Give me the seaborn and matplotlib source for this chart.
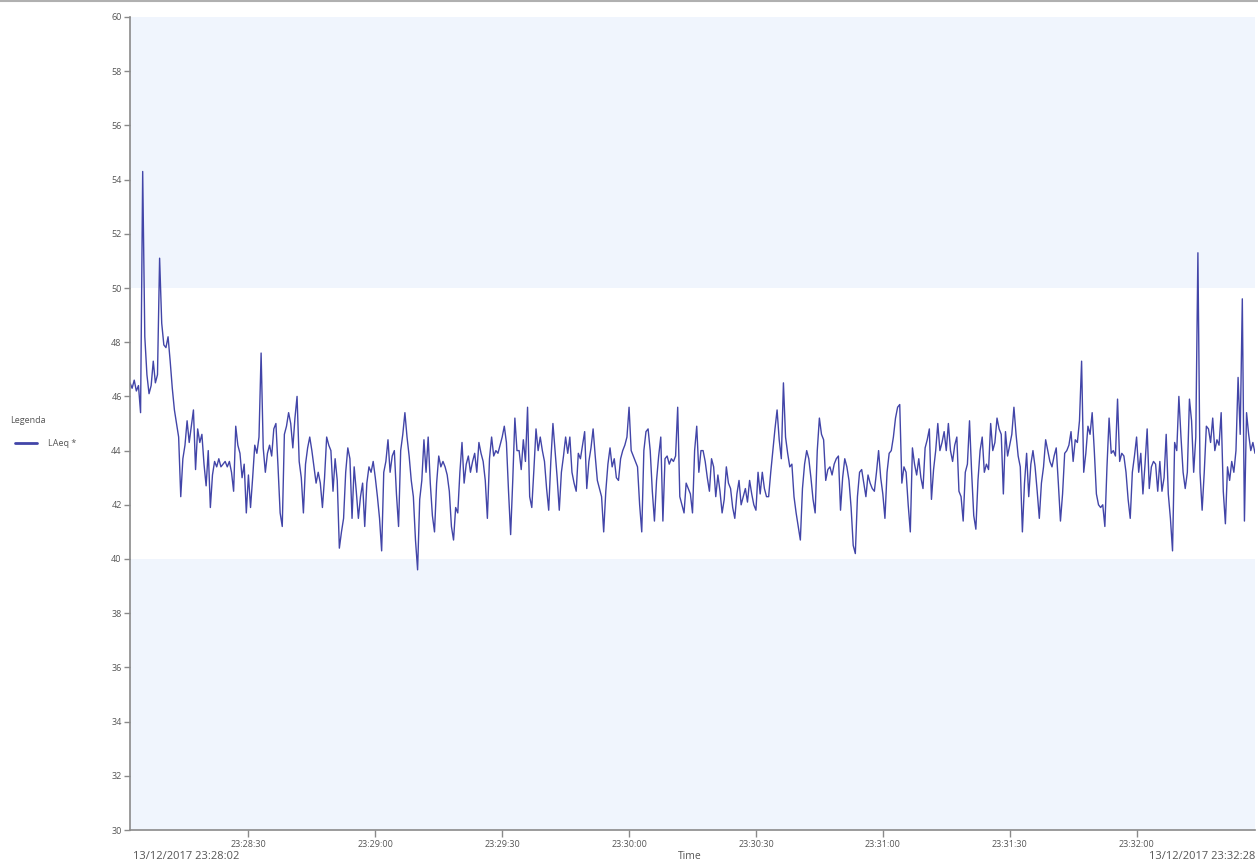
import numpy as np
import pandas as pd
import matplotlib
matplotlib.use("Agg")
import matplotlib.pyplot as plt
from matplotlib.lines import Line2D
import seaborn as sns

# ---------------- data ----------------
start_label = "13/12/2017 23:28:02"
end_label = "13/12/2017 23:32:28"
step_s = 0.5
series_name = "LAeq *"
legend_title = "Legenda"
x_title = "Time"
tick_labels = ["23:28:30", "23:29:00", "23:29:30", "23:30:00",
               "23:30:30", "23:31:00", "23:31:30", "23:32:00"]
y_ticks = list(range(30, 61, 2))
band_low = (30, 40)
band_high = (50, 60)

laeq = [
    46.5, 46.3, 46.6, 46.2, 46.4, 45.4, 54.3, 48.2, 46.8, 46.1, 46.4, 47.3, 46.5, 46.8, 51.1, 48.7, 47.9, 47.8, 48.2, 47.3,
    46.3, 45.5, 45.0, 44.5, 42.3, 43.7, 44.2, 45.1, 44.3, 44.9, 45.5, 43.3, 44.8, 44.3, 44.6, 43.5, 42.7, 44.0, 41.9, 43.1,
    43.6, 43.4, 43.7, 43.4, 43.5, 43.6, 43.4, 43.6, 43.2, 42.5, 44.9, 44.2, 43.9, 43.0, 43.5, 41.7, 43.1, 41.9, 43.0, 44.2,
    43.9, 44.5, 47.6, 44.1, 43.2, 43.9, 44.2, 43.8, 44.8, 45.0, 43.4, 41.7, 41.2, 44.6, 44.9, 45.4, 45.0, 44.1, 45.2, 46.0,
    43.6, 43.0, 41.7, 43.5, 44.1, 44.5, 44.0, 43.4, 42.8, 43.2, 42.8, 41.9, 43.0, 44.5, 44.2, 44.0, 42.5, 43.7, 42.9, 40.4,
    41.0, 41.5, 43.2, 44.1, 43.7, 41.5, 43.4, 42.5, 41.5, 42.3, 42.8, 41.2, 42.8, 43.4, 43.2, 43.6, 43.0, 42.3, 41.5, 40.3,
    43.2, 43.6, 44.4, 43.2, 43.8, 44.0, 42.4, 41.2, 44.0, 44.6, 45.4, 44.5, 43.8, 42.9, 42.3, 40.7, 39.6, 42.2, 42.9, 44.4,
    43.2, 44.5, 42.8, 41.6, 41.0, 42.8, 43.8, 43.4, 43.6, 43.4, 43.1, 42.5, 41.2, 40.7, 41.9, 41.7, 43.2, 44.3, 42.8, 43.5,
    43.8, 43.2, 43.6, 43.9, 43.2, 44.3, 43.9, 43.6, 42.9, 41.5, 43.7, 44.5, 43.8, 44.0, 43.9, 44.2, 44.5, 44.9, 44.3, 42.5,
    40.9, 42.9, 45.2, 44.0, 44.0, 43.3, 44.4, 43.6, 45.6, 42.3, 41.9, 43.3, 44.8, 44.0, 44.5, 44.0, 43.6, 42.6, 41.8, 43.6,
    45.0, 44.0, 43.0, 41.8, 43.2, 43.8, 44.5, 43.9, 44.5, 43.2, 42.8, 42.5, 43.9, 43.7, 44.2, 44.7, 42.6, 43.6, 44.1, 44.8,
    43.8, 42.9, 42.6, 42.3, 41.0, 42.5, 43.5, 44.1, 43.4, 43.7, 43.0, 42.9, 43.7, 44.0, 44.2, 44.5, 45.6, 44.0, 43.8, 43.6,
    43.4, 42.0, 41.0, 44.0, 44.7, 44.8, 44.0, 42.5, 41.4, 42.9, 43.8, 44.5, 41.4, 43.7, 43.8, 43.5, 43.7, 43.6, 43.8, 45.6,
    42.3, 42.0, 41.7, 42.8, 42.6, 42.4, 41.7, 44.0, 44.9, 43.2, 44.0, 44.0, 43.6, 43.0, 42.5, 43.7, 43.4, 42.3, 43.1, 42.5,
    41.7, 42.2, 43.4, 42.8, 42.6, 41.9, 41.5, 42.4, 42.9, 42.0, 42.3, 42.6, 42.1, 42.9, 42.4, 42.0, 41.8, 43.2, 42.4, 43.2,
    42.6, 42.3, 42.3, 43.2, 44.0, 44.8, 45.5, 44.4, 43.7, 46.5, 44.5, 43.9, 43.4, 43.5, 42.3, 41.7, 41.2, 40.7, 42.6, 43.5,
    44.0, 43.7, 43.0, 42.2, 41.7, 44.0, 45.2, 44.6, 44.4, 42.9, 43.3, 43.4, 43.1, 43.5, 43.7, 43.8, 41.8, 43.0, 43.7, 43.4,
    42.9, 41.9, 40.5, 40.2, 42.3, 43.2, 43.3, 42.8, 42.3, 43.1, 42.8, 42.6, 42.5, 43.2, 44.0, 43.0, 42.4, 41.5, 43.2, 43.9,
    44.0, 44.5, 45.2, 45.6, 45.7, 42.8, 43.4, 43.2, 42.0, 41.0, 44.1, 43.5, 43.1, 43.7, 43.0, 42.6, 44.1, 44.4, 44.8, 42.2,
    43.3, 44.0, 45.0, 44.0, 44.3, 44.7, 44.0, 45.0, 44.0, 43.6, 44.2, 44.5, 42.5, 42.3, 41.4, 43.2, 43.5, 45.1, 43.2, 41.6,
    41.1, 42.9, 44.0, 44.5, 43.2, 43.5, 43.3, 45.0, 44.0, 44.3, 45.2, 44.8, 44.6, 42.4, 44.7, 43.8, 44.2, 44.6, 45.6, 44.6,
    43.8, 43.4, 41.0, 42.8, 43.9, 42.3, 43.5, 44.0, 43.4, 42.5, 41.5, 42.8, 43.4, 44.4, 44.0, 43.6, 43.4, 43.8, 44.1, 42.8,
    41.4, 42.4, 43.9, 44.0, 44.2, 44.7, 43.6, 44.4, 44.3, 45.1, 47.3, 43.2, 43.9, 44.9, 44.6, 45.4, 44.0, 42.4, 42.0, 41.9,
    42.0, 41.2, 43.4, 45.2, 43.9, 44.0, 43.8, 45.9, 43.6, 43.9, 43.8, 43.2, 42.2, 41.5, 43.2, 43.8, 44.5, 43.2, 43.9, 42.4,
    43.5, 44.8, 42.6, 43.4, 43.6, 43.5, 42.5, 43.6, 42.5, 43.0, 44.6, 42.4, 41.5, 40.3, 44.3, 44.0, 46.0, 44.5, 43.2, 42.6,
    43.2, 45.9, 45.1, 43.2, 44.5, 51.3, 43.2, 41.8, 43.2, 44.9, 44.8, 44.3, 45.2, 44.0, 44.4, 44.2, 45.4, 42.5, 41.3, 43.4,
    42.9, 43.6, 43.2, 44.0, 46.7, 44.6, 49.6, 41.4, 45.4, 44.6, 44.0, 44.3, 43.9,
]

# ---------------- build frame ----------------
t0 = pd.to_datetime(start_label, format="%d/%m/%Y %H:%M:%S")
t1 = pd.to_datetime(end_label, format="%d/%m/%Y %H:%M:%S")
df = pd.DataFrame({"sec": np.arange(len(laeq)) * step_s, "LAeq": laeq})
total = (t1 - t0).total_seconds()
tick_pos = [(pd.to_datetime(t0.strftime("%Y-%m-%d ") + s) - t0).total_seconds()
            for s in tick_labels]

# ---------------- plot ----------------
sns.set_theme(style="white")
plt.rcParams["font.family"] = ["Open Sans", "DejaVu Sans"]

W, H = 1258, 863
fig = plt.figure(figsize=(W / 100, H / 100), dpi=100)
ax = fig.add_axes([130 / W, 1 - 830 / H, (1255 - 130) / W, (830 - 17) / H])

band_col = "#F0F5FD"
ax.axhspan(*band_low, color=band_col, lw=0, zorder=0)
ax.axhspan(*band_high, color=band_col, lw=0, zorder=0)

line_col = "#4245A8"
sns.lineplot(data=df, x="sec", y="LAeq", ax=ax, color=line_col, lw=1.0,
             label=series_name, legend=False)

ax.set_xlim(0, total)
ax.set_ylim(band_low[0], band_high[1])
ax.set_yticks(y_ticks)
ax.set_yticklabels([str(v) for v in y_ticks])
ax.set_xticks(tick_pos)
ax.set_xticklabels(tick_labels)
ax.set_xlabel("")
ax.set_ylabel("")

grey = "#8A8A8A"
txt = "#555555"
for s in ["top", "right"]:
    ax.spines[s].set_visible(False)
for s in ["left", "bottom"]:
    ax.spines[s].set_color(grey)
    ax.spines[s].set_linewidth(1.2)
ax.tick_params(axis="y", direction="out", length=4, width=1, color=grey,
               labelsize=6.5, labelcolor=txt, pad=2, left=True)
ax.tick_params(axis="x", direction="out", length=5, width=1, color=grey,
               labelsize=6.5, labelcolor=txt, pad=2, bottom=True)

# date labels + axis title
fig.text(133 / W, 1 - 856 / H, start_label, fontsize=8, color=txt, ha="left", va="center")
fig.text(1255 / W, 1 - 856 / H, end_label, fontsize=8, color=txt, ha="right", va="center")
fig.text(690 / W, 1 - 856 / H, x_title, fontsize=7.5, color=txt, ha="center", va="center")

# legend at left
fig.text(10 / W, 1 - 420 / H, legend_title, fontsize=6.5, color=txt, ha="left", va="center")
fig.add_artist(Line2D([15 / W, 37 / W], [1 - 443 / H, 1 - 443 / H],
                      color=line_col, lw=2, transform=fig.transFigure))
fig.text(48 / W, 1 - 443 / H, series_name, fontsize=6.5, color=txt, ha="left", va="center")

# thin frame line at top of picture
fig.add_artist(Line2D([0, 1], [0.9985, 0.9985], color="#B0B0B0", lw=1.5,
                      transform=fig.transFigure))

fig.savefig("out.png", dpi=100)
